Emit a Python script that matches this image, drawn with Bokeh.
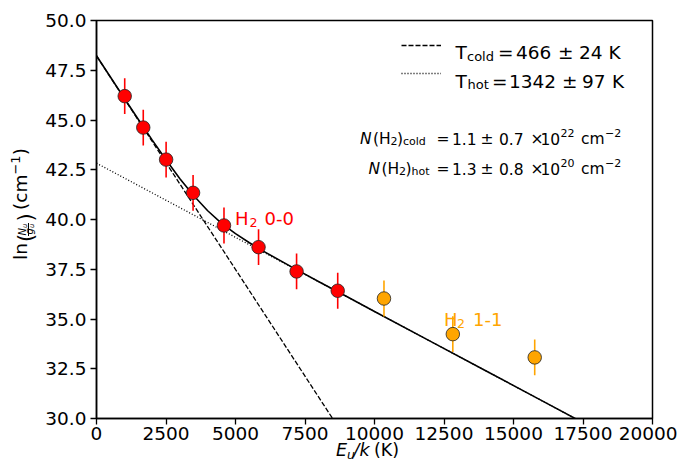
import math
from bokeh.plotting import figure
from bokeh.layouts import column
from bokeh.models import (Range1d, FixedTicker, PrintfTickFormatter, Label,
                          Legend, LegendItem, Div)
from bokeh.embed import file_html
from bokeh.resources import INLINE

# ---------------- data ----------------
# H2 0-0 transitions: upper level energy (K) and ln(Nu/gu)
e_00 = [1015, 1682, 2504, 3474, 4586, 5829, 7197, 8677]
ln_00 = [46.20, 44.62, 43.01, 41.34, 39.70, 38.61, 37.39, 36.42]
err_00 = [0.9, 0.9, 0.9, 0.9, 0.9, 0.9, 0.9, 0.9]
# H2 1-1 transitions
e_11 = [10341, 12817, 15763]
ln_11 = [36.03, 34.24, 33.07]
err_11 = [0.9, 0.9, 0.9]
# two-temperature fit (solid)
fit_x = [0, 500, 1000, 1500, 2000, 2500, 3000, 3500, 4000, 4500, 5000, 5500,
         6000, 7000, 8000, 9000, 10000, 12000, 14000, 16000, 17300]
fit_y = [48.23, 47.16, 46.09, 45.04, 44.00, 43.00, 42.05, 41.19, 40.44, 39.81,
         39.29, 38.83, 38.41, 37.63, 36.87, 36.13, 35.38, 33.89, 32.40, 30.91,
         29.94]
# cold component (dashed) and hot component (dotted)
cold_x = [0, 9000]
cold_y = [48.22, 28.91]
hot_x = [0, 20000]
hot_y = [42.83, 27.93]
x_ticks = [0, 2500, 5000, 7500, 10000, 12500, 15000, 17500, 20000]
y_ticks = [30.0, 32.5, 35.0, 37.5, 40.0, 42.5, 45.0, 47.5, 50.0]
X0, X1 = 0, 20000
Y0, Y1 = 30, 50

FONT = "DejaVu Sans"
W, H = 677, 466

p = figure(width=W, height=H, x_range=Range1d(X0, X1), y_range=Range1d(Y0, Y1),
           output_backend="svg", toolbar_location=None,
           min_border_left=96, min_border_right=25, min_border_top=20,
           min_border_bottom=48)
p.grid.visible = False
p.outline_line_color = "black"
p.outline_line_width = 1.5
p.background_fill_color = "white"
p.border_fill_color = "white"

for ax in (p.xaxis[0], p.yaxis[0]):
    ax.axis_line_width = 1.5
    ax.major_tick_line_width = 1.3
    ax.major_tick_out = 6
    ax.major_tick_in = 0
    ax.minor_tick_line_color = None
    ax.major_label_text_font = FONT
    ax.major_label_text_font_size = "18.5px"
    ax.major_label_text_color = "black"
p.xaxis[0].ticker = FixedTicker(ticks=x_ticks)
p.xaxis[0].formatter = PrintfTickFormatter(format="%d")
p.xaxis[0].major_label_standoff = 2
p.yaxis[0].ticker = FixedTicker(ticks=y_ticks)
p.yaxis[0].formatter = PrintfTickFormatter(format="%.1f")
p.yaxis[0].major_label_standoff = 4

# fit lines
r_cold = p.line(cold_x, cold_y, line_color="black", line_width=1.3, line_dash="5 2")
r_hot = p.line(hot_x, hot_y, line_color="black", line_width=1.3, line_dash="1 2")
p.line(fit_x, fit_y, line_color="black", line_width=1.6)

# error bars
p.segment(x0=e_00, x1=e_00, y0=[v - e for v, e in zip(ln_00, err_00)],
          y1=[v + e for v, e in zip(ln_00, err_00)], line_color="red", line_width=1.6)
p.segment(x0=e_11, x1=e_11, y0=[v - e for v, e in zip(ln_11, err_11)],
          y1=[v + e for v, e in zip(ln_11, err_11)], line_color="orange", line_width=1.6)
# points
p.scatter(e_00, ln_00, size=13.5, fill_color="red", line_color="#222222", line_width=0.8)
p.scatter(e_11, ln_11, size=13.5, fill_color="orange", line_color="#222222", line_width=0.8)

# legend line samples
legend = Legend(items=[LegendItem(label=" ", renderers=[r_cold]),
                       LegendItem(label=" ", renderers=[r_hot])],
                location=(305, 335), glyph_width=40, glyph_height=20,
                label_height=20, label_width=0, label_standoff=0, padding=0,
                spacing=8, margin=0, border_line_color=None,
                background_fill_alpha=0, label_text_font_size="1px")
p.add_layout(legend)

# --------- text helpers (canvas pixel -> data coordinates) ---------
FL, FR, FT, FB = 96, 652, 20, 418


def dx(px):
    return X0 + (px - FL) / (FR - FL) * (X1 - X0)


def dy(py):
    return Y1 - (py - FT) / (FB - FT) * (Y1 - Y0)


def put(text, px, py, size, color="black", style="normal", angle=0.0):
    p.add_layout(Label(x=dx(px), y=dy(py), text=text, text_font=FONT,
                       text_font_size=f"{size}px", text_color=color,
                       text_font_style=style, text_align="left",
                       text_baseline="alphabetic", angle=angle))


# legend texts
put("T", 455, 52.3, 18.5)
put("cold", 466.5, 55.8, 13)
put("=", 497.5, 52.3, 18.5)
put("466", 515.5, 52.3, 18.5)
put("±", 557.5, 52.3, 18.5)
put("24", 578.5, 52.3, 18.5)
put("K", 608, 52.3, 18.5)

put("T", 455, 80.7, 18.5)
put("hot", 467, 84.2, 13)
put("=", 491.5, 80.7, 18.5)
put("1342", 508.5, 80.7, 18.5)
put("±", 561.5, 80.7, 18.5)
put("97", 581.5, 80.7, 18.5)
put("K", 611.5, 80.7, 18.5)

# column density texts
for (yb, nx, sub, a, b, ex) in [(138.0, 359.5, "cold", "1.1", "0.7", "22"),
                                (168.0, 368.0, "hot", "1.3", "0.8", "20")]:
    put("N", nx, yb, 15.5, style="italic")
    put("(H", nx + 13, yb, 15.5)
    put("2", nx + 30.5, yb + 2.5, 11)
    put(")", nx + 37, yb, 15.5)
    put(sub, nx + 43, yb + 2.5, 11)
    put("=", 436, yb, 15.5)
    put(a, 451.5, yb, 15.5)
    put("±", 480, yb, 15.5)
    put(b, 498.5, yb, 15.5)
    put("×", 530, yb, 15.5)
    put("10", 540, yb, 15.5)
    put(ex, 560, yb - 6, 11)
    put("cm", 580.5, yb, 15.5)
    put("−2", 604.5, yb - 6, 11)

# series labels
put("H", 234.5, 218.3, 18, color="red")
put("2", 249, 222, 12.6, color="red")
put("0-0", 264, 218.3, 18, color="red")
put("H", 443.5, 319.3, 18, color="orange")
put("2", 456.5, 323, 12.6, color="orange")
put("1-1", 472.5, 319.3, 18, color="orange")

# --------- axis titles (outside the frame) as HTML text overlay ---------
ASC = 0.846  # baseline offset (em) of DejaVu Sans with line-height 1


def span(text, left, baseline, size, style="normal"):
    top = baseline - ASC * size
    return (f'<span style="position:absolute;left:{left}px;top:{top:.2f}px;'
            f'font-size:{size}px;line-height:1;font-style:{style};'
            f'white-space:nowrap;">{text}</span>')


def rspan(text, start_y, baseline_x, size, style="normal", origin=260):
    # piece inside the rotated (-90deg) container whose origin is (0, origin)
    a = origin - start_y
    b = baseline_x - ASC * size
    return (f'<span style="position:absolute;left:{a:.2f}px;top:{b:.2f}px;'
            f'font-size:{size}px;line-height:1;font-style:{style};'
            f'white-space:nowrap;">{text}</span>')


xlabel = (span("E", 336, 456.5, 17.5, "italic")
          + span("u", 347, 460, 12.5, "italic")
          + span("/k", 353.5, 456.5, 17.5, "italic")
          + span("(K)", 374, 456.5, 17.5))

ylabel_parts = (rspan("ln", 260, 27.3, 18.5)
                + rspan("(", 242, 33.3, 21)
                + rspan("N", 235.5, 26.3, 10, "italic")
                + rspan("u", 228, 27.8, 7, "italic")
                + '<span style="position:absolute;left:24px;top:27.6px;'
                  'width:13px;height:0.9px;background:black;"></span>'
                + rspan("g", 234.5, 33.8, 10, "italic")
                + rspan("u", 228, 35, 7, "italic")
                + rspan(")", 221.5, 33.3, 21)
                + rspan("(cm", 210, 27.3, 18.5)
                + rspan("−1", 174.6, 20.3, 13)
                + rspan(")", 155.3, 27.3, 18.5))
ylabel = ('<div style="position:absolute;left:0px;top:260px;width:140px;height:45px;'
          'transform:rotate(-90deg);transform-origin:0 0;">' + ylabel_parts + '</div>')

html = (f'<div style="position:relative;width:{W}px;height:{H}px;'
        f"font-family:'DejaVu Sans';color:black;pointer-events:none;\">"
        + xlabel + ylabel + '</div>')

overlay = Div(text=html, width=W, height=H, margin=(-H, 0, 0, 0))

layout = column(p, overlay, spacing=0)
open("out.html", "w").write(file_html(layout, INLINE))
